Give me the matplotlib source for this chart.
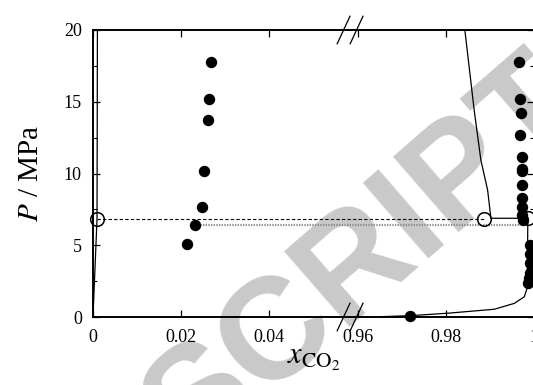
import numpy as np
import matplotlib.pyplot as plt
from matplotlib.transforms import blended_transform_factory

plt.rcParams['font.family'] = ['Liberation Serif', 'DejaVu Serif']
plt.rcParams['mathtext.fontset'] = 'stix'

# measured solubility, CO2 in the water-rich phase
exp_water_x = [0.0213, 0.0232, 0.0247, 0.0252, 0.0260, 0.0262, 0.0268]
exp_water_p = [5.07, 6.41, 7.64, 10.15, 13.7, 15.2, 17.75]

# measured composition of the CO2-rich phase
exp_co2_x = [0.99666, 0.99690, 0.99700, 0.99690, 0.99718, 0.99718, 0.99722,
             0.99722, 0.99722, 0.99722, 0.99722, 0.99740,
             0.99916, 0.99916, 0.99912, 0.99900, 0.99880, 0.99868, 0.97180]
exp_co2_p = [17.75, 15.2, 14.2, 12.7, 11.17, 10.29, 10.15,
             9.2, 8.31, 7.64, 7.1, 6.76,
             5.02, 4.4, 3.74, 3.04, 2.7, 2.35, 0.09]

# model curves
liq_water_x = [0.0, 0.00091, 0.00095, 0.0010]
liq_water_p = [0.0, 6.83, 12.0, 20.0]

liq_co2_x = [0.98432, 0.98643, 0.98795, 0.98948, 0.99023, 0.99743, 0.99860]
liq_co2_p = [20.0, 14.43, 10.94, 8.85, 6.88, 6.88, 6.90]

vap_x = [0.9650, 0.9718, 0.9803, 0.9910, 0.99553, 0.99780, 0.99855,
         0.99850, 0.99855, 0.99860]
vap_p = [0.02, 0.09, 0.26, 0.54, 0.95, 1.41, 2.11, 3.5, 5.0, 6.90]

# three-phase points and lines
three_x = [0.00098, 0.98857, 0.99860]
three_p = [6.83, 6.83, 6.88]
three_line_x = [0.00098, 0.98857]
three_line_p = [6.83, 6.83]
exp_three_x = [0.0232, 0.99666]
exp_three_p = [6.41, 6.41]

xtick_vals = [0.0, 0.02, 0.04, 0.96, 0.98, 1.0]
xtick_labels = ['0', '0.02', '0.04', '0.96', '0.98', '1']
ytick_vals = [0, 5, 10, 15, 20]


def to_u(x):
    # squeeze out the empty middle of the composition range
    x = np.asarray(x, dtype=float)
    return np.where(x > 0.5, x - 0.9, x)


fig = plt.figure(figsize=(5.33, 3.85), dpi=100)
ax = fig.add_axes([93 / 533, 1 - 317 / 385, 441 / 533, 287 / 385])
ax.set_facecolor('none')

fig.text(0.688, 0.327, 'SCRIPT', family='Liberation Sans', fontweight='bold',
         fontsize=104, color='#c9c9c9', rotation=41, ha='center', va='center',
         zorder=-5)

ax.plot(to_u(liq_water_x), liq_water_p, color='black', lw=0.9)
ax.plot(to_u(liq_co2_x), liq_co2_p, color='black', lw=0.9)
ax.plot(to_u(vap_x), vap_p, color='black', lw=0.9)
ax.plot(to_u(three_line_x), three_line_p, color='black', lw=0.8,
        linestyle=(0, (3, 2)))
ax.plot(to_u(exp_three_x), exp_three_p, color='#8c8c8c', lw=1.6,
        linestyle=(0, (0.6, 0.6)))
ax.plot(to_u(three_x), three_p, 'o', mfc='none', mec='black', ms=9.8, mew=1.1,
        clip_on=False, zorder=4)
ax.plot(to_u(exp_water_x), exp_water_p, 'o', color='black', ms=7.2, zorder=5)
ax.plot(to_u(exp_co2_x), exp_co2_p, 'o', color='black', ms=7.2, zorder=5,
        clip_on=False)

ax.set_xlim(0, 0.10)
ax.set_ylim(0, 20)
ax.set_xticks(to_u(xtick_vals))
ax.set_xticklabels(xtick_labels)
ax.set_yticks(ytick_vals)
ax.set_yticks(np.arange(0, 20.1, 2.5), minor=True)
ax.tick_params(direction='in', top=True, right=True, labelsize=13,
               length=5, width=0.9)
ax.tick_params(axis='x', pad=9)
ax.tick_params(axis='y', pad=8)
ax.tick_params(which='minor', direction='in', right=True, length=3, width=0.8)
for side in ax.spines.values():
    side.set_linewidth(1.4)

# break marks on both horizontal axes
trans = blended_transform_factory(ax.transData, ax.transAxes)
for yb in (0.0, 1.0):
    for xc in (0.05682, 0.05977):
        ax.plot([xc - 0.00145, xc + 0.00145], [yb - 0.048, yb + 0.048],
                color='black', lw=0.9, transform=trans, clip_on=False)

ax.set_xlabel(r'$x_{\mathrm{CO}_2}$', fontsize=22, labelpad=-2)
ax.set_ylabel(r'$P$ / MPa', fontsize=21, labelpad=14)

plt.savefig('out.png', dpi=100)
plt.close()
